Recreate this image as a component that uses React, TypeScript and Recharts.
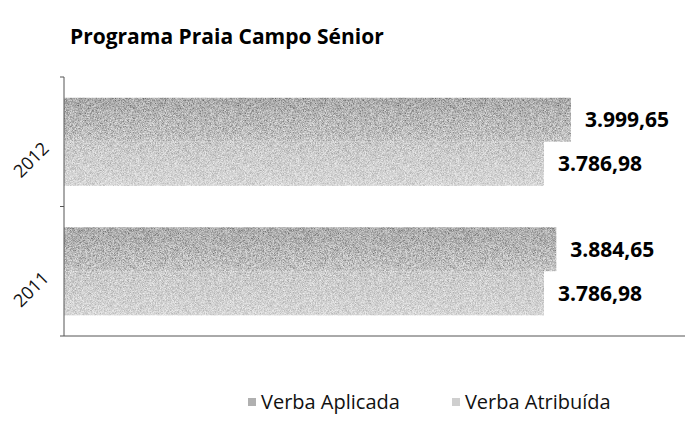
import React from "react";
import { BarChart, Bar, XAxis, YAxis, LabelList, Legend } from "recharts";

const years = ["2012", "2011"];
const verbaAplicada = [3999.65, 3884.65];
const verbaAtribuida = [3786.98, 3786.98];
const seriesNames = ["Verba Aplicada", "Verba Atribuída"];

const data = years.map((year, i) => ({
  year,
  aplicada: verbaAplicada[i],
  atribuida: verbaAtribuida[i],
}));

const W = 685;
const H = 441;
const margin = { top: 77, right: 0, bottom: 100, left: 0 };
const xAxisH = 5;
const plotH = H - margin.top - margin.bottom - xAxisH;
const band = plotH / years.length;
const font = '"Open Sans", sans-serif';

// 3999.65 -> "3.999,65"
function fmt(v: number) {
  const [int, dec] = v.toFixed(2).split(".");
  return int.replace(/\B(?=(\d{3})+(?!\d))/g, ".") + "," + dec;
}

function YearTick(props: any) {
  const { x, y, payload, index } = props;
  const last = index === years.length - 1;
  const tx = x - 14;
  const ty = y + 8;
  return (
    <g>
      <line x1={x - 4} x2={x} y1={y - band / 2} y2={y - band / 2} stroke="#555" />
      {last && <line x1={x - 4} x2={x} y1={y + band / 2} y2={y + band / 2} stroke="#555" />}
      <text
        x={tx}
        y={ty}
        transform={`rotate(-45, ${tx}, ${ty})`}
        textAnchor="end"
        fontFamily={font}
        fontSize={18}
        fill="#111"
      >
        {payload.value}
      </text>
    </g>
  );
}

// grainy bar, like the printed/scanned original
function GrainBar(props: any) {
  const { x, y, width, height, fill } = props;
  if (!width || !height) return null;
  return <rect x={x} y={y} width={width} height={height} fill={fill} filter="url(#grain)" />;
}

const swatches = ["url(#aplicadaFill)", "url(#atribuidaFill)"];
const swatchColors = ["#b0b0b0", "#cfcfcf"];

function LegendContent() {
  return (
    <div
      style={{
        display: "flex",
        justifyContent: "flex-start",
        gap: 52,
        paddingLeft: 248,
        fontFamily: font,
        fontSize: 20,
        lineHeight: "20px",
        color: "#111",
      }}
    >
      {seriesNames.map((n, i) => (
        <span key={n} style={{ display: "flex", alignItems: "center" }}>
          <span
            style={{
              width: 8,
              height: 8,
              background: swatchColors[i],
              marginRight: 5,
              display: "inline-block",
            }}
          />
          {n}
        </span>
      ))}
    </div>
  );
}

export default function App() {
  return (
    <div style={{ position: "absolute", left: 0, top: 0, width: W, height: H, background: "#fff" }}>
      <div
        style={{
          position: "absolute",
          left: 70,
          top: 26,
          fontFamily: font,
          fontWeight: 700,
          fontSize: 21,
          lineHeight: "21px",
          color: "#000",
          whiteSpace: "nowrap",
        }}
      >
        Programa Praia Campo Sénior
      </div>
      <BarChart
        width={W}
        height={H}
        data={data}
        layout="vertical"
        margin={margin}
        barCategoryGap="16%"
        barGap={0}
      >
        <defs>
          <linearGradient id="aplicadaFill" x1="0" y1="0" x2="0" y2="1">
            <stop offset="0%" stopColor="#ababab" />
            <stop offset="100%" stopColor="#c4c4c4" />
          </linearGradient>
          <linearGradient id="atribuidaFill" x1="0" y1="0" x2="0" y2="1">
            <stop offset="0%" stopColor="#c9c9c9" />
            <stop offset="100%" stopColor="#d6d6d6" />
          </linearGradient>
          <filter id="grain" x="0" y="0" width="100%" height="100%">
            <feTurbulence type="fractalNoise" baseFrequency="1.6" numOctaves={1} seed={5} result="n" />
            <feColorMatrix
              in="n"
              type="matrix"
              values="1.1 0 0 0 -0.05  1.1 0 0 0 -0.05  1.1 0 0 0 -0.05  0 0 0 0 1"
              result="g"
            />
            <feBlend in="g" in2="SourceGraphic" mode="overlay" result="b" />
            <feComposite in="b" in2="SourceGraphic" operator="in" />
          </filter>
        </defs>
        <XAxis
          type="number"
          domain={[0, 4900]}
          height={xAxisH}
          tick={false}
          tickLine={false}
          axisLine={{ stroke: "#555" }}
        />
        <YAxis
          type="category"
          dataKey="year"
          width={64}
          tickSize={0}
          tickMargin={0}
          tickLine={false}
          axisLine={{ stroke: "#555" }}
          tick={<YearTick />}
        />
        <Legend
          verticalAlign="middle"
          align="center"
          content={<LegendContent />}
          wrapperStyle={{ top: 392, left: 0, width: W }}
        />
        <Bar
          dataKey="aplicada"
          name={seriesNames[0]}
          fill={swatches[0]}
          shape={<GrainBar />}
          isAnimationActive={false}
        >
          <LabelList
            dataKey="aplicada"
            position="right"
            offset={14}
            formatter={(v: any) => fmt(Number(v))}
            style={{ fontFamily: font, fontWeight: 700, fontSize: 21, fill: "#000" }}
          />
        </Bar>
        <Bar
          dataKey="atribuida"
          name={seriesNames[1]}
          fill={swatches[1]}
          shape={<GrainBar />}
          isAnimationActive={false}
        >
          <LabelList
            dataKey="atribuida"
            position="right"
            offset={14}
            formatter={(v: any) => fmt(Number(v))}
            style={{ fontFamily: font, fontWeight: 700, fontSize: 21, fill: "#000" }}
          />
        </Bar>
      </BarChart>
    </div>
  );
}
